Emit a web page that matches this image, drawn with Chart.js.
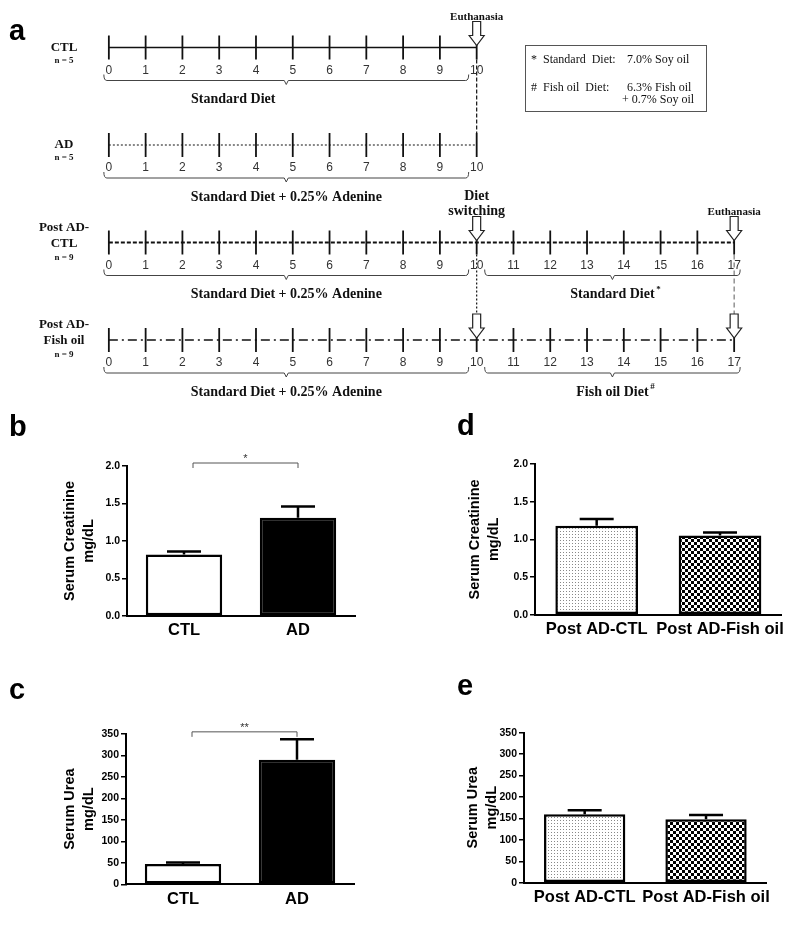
<!DOCTYPE html>
<html>
<head>
<meta charset="utf-8">
<script src="https://cdn.jsdelivr.net/npm/chart.js"></script>
<style>
  body { margin: 0; background: #fff; }
  #fig { position: relative; width: 793px; height: 929px; overflow: hidden; }
  canvas { position: absolute; }
  .panel { position: absolute; font: bold 29px "Liberation Sans", Arial, sans-serif; line-height: 29px; }
  #diet-box { position: absolute; left: 525px; top: 45px; width: 180px; height: 65px;
              border: 1.5px solid #555; font: 12px "Liberation Serif", "Times New Roman", serif; color: #111; }
  #diet-box span { position: absolute; line-height: 14px; white-space: pre; }
</style>
</head>
<body>
<div id="fig">
  <canvas id="timeline" width="793" height="410" style="left:0;top:0"></canvas>
  <canvas id="chart-b" width="395" height="250" style="left:0;top:410px"></canvas>
  <canvas id="chart-c" width="395" height="269" style="left:0;top:660px"></canvas>
  <canvas id="chart-d" width="393" height="250" style="left:400px;top:410px"></canvas>
  <canvas id="chart-e" width="393" height="269" style="left:400px;top:660px"></canvas>

  <div class="panel" style="left:9px;top:16px">a</div>
  <div class="panel" style="left:9px;top:412px">b</div>
  <div class="panel" style="left:9px;top:675px">c</div>
  <div class="panel" style="left:457px;top:411px">d</div>
  <div class="panel" style="left:457px;top:671px">e</div>

  <div id="diet-box">
    <span style="left:5px;top:6px">*  Standard  Diet:</span>
    <span style="left:101px;top:6px">7.0% Soy oil</span>
    <span style="left:5px;top:34px">#  Fish oil  Diet:</span>
    <span style="left:101px;top:34px">6.3% Fish oil</span>
    <span style="left:96px;top:46px">+ 0.7% Soy oil</span>
  </div>
</div>

<script>
// ── 1. DATA ─────────────────────────────────────────────────

// timeline (panel a)
const weekTicks = [0, 1, 2, 3, 4, 5, 6, 7, 8, 9, 10, 11, 12, 13, 14, 15, 16, 17];
const groupNames = [['CTL'], ['AD'], ['Post AD-', 'CTL'], ['Post AD-', 'Fish oil']];
const groupN = [5, 5, 9, 9];
const groupLastWeek = [10, 10, 17, 17];

const phaseGroup = [0, 1, 2, 2, 3, 3];
const phaseStart = [0, 0, 0, 10, 0, 10];
const phaseEnd = [10, 10, 10, 17, 10, 17];
const phaseText = ['Standard Diet', 'Standard Diet + 0.25% Adenine', 'Standard Diet + 0.25% Adenine',
                   'Standard Diet', 'Standard Diet + 0.25% Adenine', 'Fish oil Diet'];
const phaseMark = ['', '', '', '*', '', '#'];

const eventGroup = [0, 2, 2, 3, 3];
const eventWeek = [10, 10, 17, 10, 17];
const eventText = [['Euthanasia'], ['Diet', 'switching'], ['Euthanasia'], [], []];

const linkWeek = [10, 10, 17];
const linkFrom = [0, 2, 2];   // joins group i with group i + 1

// serum values (mean, SEM)
const ctlAdLabels = ['CTL', 'AD'];
const creatinineMean = [0.82, 1.31];
const creatinineSem = [0.04, 0.15];
const ureaMean = [47, 290];
const ureaSem = [4, 48];

const postLabels = ['Post AD-CTL', 'Post AD-Fish oil'];
const postCreatinineMean = [1.18, 1.05];
const postCreatinineSem = [0.09, 0.04];
const postUreaMean = [160, 148];
const postUreaSem = [9, 10];

const creatinineTicks = [0, 0.5, 1.0, 1.5, 2.0];
const ureaTicks = [0, 50, 100, 150, 200, 250, 300, 350];


// ── 2. TIMELINE ─────────────────────────────────────────────

const SERIF = '"Liberation Serif", "Times New Roman", serif';
const SANS = '"Liberation Sans", Arial, sans-serif';

const rowDash = [[], [2, 2], [4, 2], [9, 4, 2, 4]];
const rowWidth = [1.6, 1.2, 2, 1.5];

function drawArrow(ctx, x, top) {
  ctx.beginPath();
  ctx.moveTo(x - 4, top);
  ctx.lineTo(x + 4, top);
  ctx.lineTo(x + 4, top + 14);
  ctx.lineTo(x + 7.5, top + 14);
  ctx.lineTo(x, top + 24);
  ctx.lineTo(x - 7.5, top + 14);
  ctx.lineTo(x - 4, top + 14);
  ctx.closePath();
  ctx.fillStyle = '#fff';
  ctx.fill();
  ctx.strokeStyle = '#222';
  ctx.lineWidth = 1.2;
  ctx.stroke();
}

function drawBrace(ctx, x0, x1, b) {
  const xc = (x0 + x1) / 2;
  ctx.beginPath();
  ctx.moveTo(x0, b - 6);
  ctx.quadraticCurveTo(x0, b, x0 + 3, b);
  ctx.lineTo(xc - 2, b);
  ctx.lineTo(xc, b + 4);
  ctx.lineTo(xc + 2, b);
  ctx.lineTo(x1 - 3, b);
  ctx.quadraticCurveTo(x1, b, x1, b - 6);
  ctx.strokeStyle = '#444';
  ctx.lineWidth = 1;
  ctx.stroke();
}

const timelinePlugin = {
  id: 'timeline',
  beforeDatasetsDraw(chart) {
    const { ctx, scales: { x, y } } = chart;
    const linkDash = [[4, 2], [2, 2], [5, 3]];
    const linkColor = ['#111', '#111', '#777'];
    ctx.save();
    linkWeek.forEach((w, i) => {
      const g = linkFrom[i];
      const px = x.getPixelForValue(w);
      const arrowBelow = eventGroup.some((eg, k) => eg === g + 1 && eventWeek[k] === w);
      const y0 = y.getPixelForValue(g) + 12;
      const y1 = y.getPixelForValue(g + 1) - (arrowBelow ? 26 : 12);
      ctx.setLineDash(linkDash[i]);
      ctx.strokeStyle = linkColor[i];
      ctx.lineWidth = 1.2;
      ctx.beginPath();
      ctx.moveTo(px, y0);
      ctx.lineTo(px, y1);
      ctx.stroke();
    });
    ctx.restore();
  },
  afterDatasetsDraw(chart) {
    const { ctx, scales: { x, y } } = chart;
    const labelDx = [-53, 0, 0, 0, 0, 0];
    ctx.save();
    ctx.textAlign = 'center';
    ctx.textBaseline = 'middle';

    // week numbers under each line
    ctx.fillStyle = '#333';
    ctx.font = '12px ' + SANS;
    groupNames.forEach((_, g) => {
      const py = y.getPixelForValue(g);
      weekTicks.filter(w => w <= groupLastWeek[g]).forEach(w => {
        ctx.fillText(String(w), x.getPixelForValue(w), py + 23);
      });
    });

    // braces with the diet names
    phaseGroup.forEach((g, p) => {
      const py = y.getPixelForValue(g);
      const x0 = x.getPixelForValue(phaseStart[p]) + (phaseStart[p] === 0 ? -5 : 8);
      const x1 = x.getPixelForValue(phaseEnd[p]) + (phaseEnd[p] === 17 ? 6 : -8);
      drawBrace(ctx, x0, x1, py + 33);
      const cx = (x0 + x1) / 2 + labelDx[p];
      ctx.fillStyle = '#111';
      ctx.font = 'bold 14px ' + SERIF;
      ctx.fillText(phaseText[p], cx, py + 52);
      if (phaseMark[p]) {
        const half = ctx.measureText(phaseText[p]).width / 2;
        ctx.font = 'bold 9px ' + SERIF;
        ctx.fillText(phaseMark[p], cx + half + 4, py + 47);
      }
    });

    // arrows and their captions
    eventGroup.forEach((g, k) => {
      const px = x.getPixelForValue(eventWeek[k]);
      const top = y.getPixelForValue(g) - 26;
      drawArrow(ctx, px, top);
      const lines = eventText[k];
      ctx.fillStyle = '#111';
      ctx.textBaseline = 'alphabetic';
      ctx.font = 'bold ' + (lines.length > 1 ? 14 : 11) + 'px ' + SERIF;
      lines.forEach((t, j) => {
        ctx.fillText(t, px, top - 2 - (lines.length - 1 - j) * 15);
      });
      ctx.textBaseline = 'middle';
    });

    // group names on the left
    groupNames.forEach((name, g) => {
      const py = y.getPixelForValue(g);
      ctx.fillStyle = '#111';
      ctx.font = 'bold 13px ' + SERIF;
      if (name.length === 1) {
        ctx.fillText(name[0], 64, py);
        ctx.font = 'bold 9px ' + SERIF;
        ctx.fillText('n = ' + groupN[g], 64, py + 13);
      } else {
        ctx.fillText(name[0], 64, py - 15);
        ctx.fillText(name[1], 64, py + 1);
        ctx.font = 'bold 9px ' + SERIF;
        ctx.fillText('n = ' + groupN[g], 64, py + 15);
      }
    });
    ctx.restore();
  }
};

new Chart(document.getElementById('timeline'), {
  type: 'scatter',
  data: {
    datasets: groupNames.map((name, g) => ({
      label: name.join(''),
      data: weekTicks.filter(w => w <= groupLastWeek[g]).map(w => ({ x: w, y: g })),
      showLine: true,
      borderColor: '#111',
      borderWidth: rowWidth[g],
      borderDash: rowDash[g],
      pointStyle: 'line',
      pointRotation: 90,
      pointRadius: 12,
      pointBorderWidth: 1.8,
      pointBorderColor: '#111',
      clip: false
    }))
  },
  options: {
    responsive: false,
    animation: false,
    events: [],
    layout: { padding: { left: 108.85, right: 58.85, top: 47.5, bottom: 70 } },
    plugins: { legend: { display: false }, tooltip: { enabled: false } },
    scales: {
      x: { type: 'linear', min: 0, max: 17, display: false },
      y: { type: 'linear', min: 0, max: 3, reverse: true, display: false }
    }
  },
  plugins: [timelinePlugin]
});


// ── 3. BAR PANELS ───────────────────────────────────────────

const errorBarPlugin = {
  id: 'errorBars',
  afterDatasetsDraw(chart, args, opts) {
    const { ctx, scales: { y } } = chart;
    const meta = chart.getDatasetMeta(0);
    ctx.save();
    ctx.strokeStyle = '#000';
    ctx.lineWidth = 2.5;
    meta.data.forEach((bar, i) => {
      const top = y.getPixelForValue(opts.means[i] + opts.sems[i]);
      ctx.beginPath();
      ctx.moveTo(bar.x, bar.y);
      ctx.lineTo(bar.x, top);
      ctx.moveTo(bar.x - 17, top);
      ctx.lineTo(bar.x + 17, top);
      ctx.stroke();
    });

    // significance bracket
    if (opts.sigText) {
      const x0 = chart.scales.x.getPixelForValue(0) + 9;
      const x1 = chart.scales.x.getPixelForValue(1);
      const sy = y.getPixelForValue(opts.sigY);
      ctx.strokeStyle = '#555';
      ctx.lineWidth = 1;
      ctx.beginPath();
      ctx.moveTo(x0, sy + 5);
      ctx.lineTo(x0, sy);
      ctx.lineTo(x1, sy);
      ctx.lineTo(x1, sy + 5);
      ctx.stroke();
      ctx.fillStyle = '#333';
      ctx.font = '11px ' + SANS;
      ctx.textAlign = 'center';
      ctx.textBaseline = 'middle';
      ctx.fillText(opts.sigText, (x0 + x1) / 2, sy - 4);
    }
    ctx.restore();
  }
};

function makePattern(canvas, kind) {
  const tile = document.createElement('canvas');
  const g = tile.getContext('2d');
  if (kind === 'dots') {
    tile.width = 3; tile.height = 3;
    g.fillStyle = '#fff'; g.fillRect(0, 0, 3, 3);
    g.fillStyle = '#888'; g.fillRect(1, 1, 1, 1);
  } else {
    tile.width = 6; tile.height = 6;
    g.fillStyle = '#fff'; g.fillRect(0, 0, 6, 6);
    g.fillStyle = '#000'; g.fillRect(0, 0, 3, 3); g.fillRect(3, 3, 3, 3);
  }
  return canvas.getContext('2d').createPattern(tile, 'repeat');
}

// box: titleX = centre of first title line, left/right/top/bottom = plot edges inside the canvas
function barPanel(id, labels, means, sems, fills, ticks, title, box, sig) {
  const canvas = document.getElementById(id);
  const titleLeft = box.titleX - 9.4;
  return new Chart(canvas, {
    type: 'bar',
    data: {
      labels: labels,
      datasets: [{
        data: means,
        backgroundColor: fills(canvas),
        borderColor: '#000',
        borderWidth: 2.5,
        borderSkipped: false,
        barPercentage: 0.67,
        categoryPercentage: 1
      }]
    },
    options: {
      responsive: false,
      animation: false,
      events: [],
      layout: { padding: { left: titleLeft, right: canvas.width - box.right, top: box.top, bottom: 0 } },
      plugins: {
        legend: { display: false },
        tooltip: { enabled: false },
        errorBars: { means: means, sems: sems, sigText: sig && sig.text, sigY: sig && sig.y }
      },
      scales: {
        x: {
          grid: { display: false, drawTicks: false },
          border: { display: true, color: '#000', width: 2 },
          ticks: {
            color: '#000', padding: 5, autoSkip: false, maxRotation: 0, minRotation: 0,
            font: { family: SANS, size: 16.5, weight: 'bold' }
          },
          afterFit: s => { s.height = canvas.height - box.bottom; }
        },
        y: {
          min: ticks[0],
          max: ticks[ticks.length - 1],
          afterBuildTicks: s => { s.ticks = ticks.map(v => ({ value: v })); },
          ticks: {
            color: '#000', padding: 2,
            font: { family: SANS, size: 10.5, weight: 'bold' },
            callback: v => (ticks[ticks.length - 1] <= 2 ? v.toFixed(1) : String(v))
          },
          grid: { drawOnChartArea: false, tickLength: 5, tickColor: '#000', lineWidth: 1.5 },
          border: { display: true, color: '#000', width: 2 },
          title: {
            display: true, text: title, color: '#000', padding: 0,
            font: { family: SANS, size: 14.5, weight: 'bold', lineHeight: 1.3 }
          },
          afterFit: s => { s.width = box.left - titleLeft; }
        }
      }
    },
    plugins: [errorBarPlugin]
  });
}

const whiteBlack = () => ['#fff', '#000'];
const dotsChecks = c => [makePattern(c, 'dots'), makePattern(c, 'checks')];

barPanel('chart-b', ctlAdLabels, creatinineMean, creatinineSem, whiteBlack, creatinineTicks,
  ['Serum Creatinine', 'mg/dL'], { titleX: 70, left: 127, right: 355, top: 56, bottom: 206 },
  { text: '*', y: 2.04 });

barPanel('chart-c', ctlAdLabels, ureaMean, ureaSem, whiteBlack, ureaTicks,
  ['Serum Urea', 'mg/dL'], { titleX: 70, left: 126, right: 354, top: 74, bottom: 224.3 },
  { text: '**', y: 355 });

barPanel('chart-d', postLabels, postCreatinineMean, postCreatinineSem, dotsChecks, creatinineTicks,
  ['Serum Creatinine', 'mg/dL'], { titleX: 75, left: 135, right: 381.7, top: 54, bottom: 204.7 });

barPanel('chart-e', postLabels, postUreaMean, postUreaSem, dotsChecks, ureaTicks,
  ['Serum Urea', 'mg/dL'], { titleX: 73.3, left: 124, right: 366.7, top: 72.7, bottom: 222.7 });
</script>
</body>
</html>
